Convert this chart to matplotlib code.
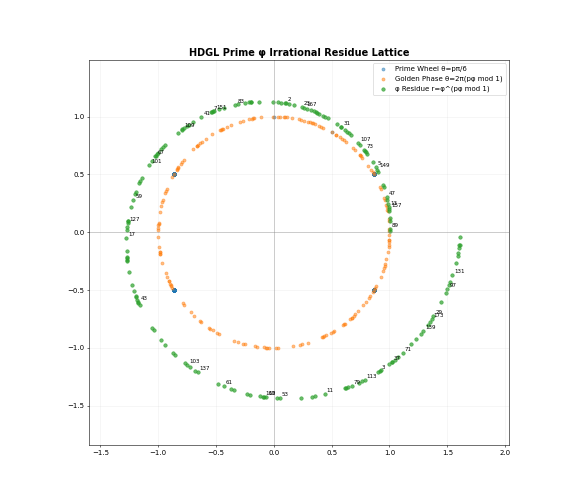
import numpy as np
import matplotlib
matplotlib.use("Agg")
import matplotlib.pyplot as plt

primes = [2, 3, 5, 7, 11, 13, 17, 19, 23, 29, 31, 37, 41, 43, 47, 53, 59, 61, 67, 71,
          73, 79, 83, 89, 97, 101, 103, 107, 109, 113, 127, 131, 137, 139, 149, 151, 157, 163, 167, 173,
          179, 181, 191, 193, 197, 199, 211, 223, 227, 229, 233, 239, 241, 251, 257, 263, 269, 271, 277, 281,
          283, 293, 307, 311, 313, 317, 331, 337, 347, 349, 353, 359, 367, 373, 379, 383, 389, 397, 401, 409,
          419, 421, 431, 433, 439, 443, 449, 457, 461, 463, 467, 479, 487, 491, 499, 503, 509, 521, 523, 541,
          547, 557, 563, 569, 571, 577, 587, 593, 599, 601, 607, 613, 617, 619, 631, 641, 643, 647, 653, 659,
          661, 673, 677, 683, 691, 701, 709, 719, 727, 733, 739, 743, 751, 757, 761, 769, 773, 787, 797, 809,
          811, 821, 823, 827, 829, 839, 853, 857, 859, 863, 877, 881, 883, 887, 907, 911, 919, 929, 937, 941,
          947, 953, 967, 971, 977, 983, 991, 997]
n_labeled = 40

phi = (1 + 5 ** 0.5) / 2
p = np.array(primes, dtype=float)

theta_wheel = p * np.pi / 6
frac = np.mod(p * phi, 1.0)
theta_gold = 2 * np.pi * frac
r_res = phi ** frac

fig, ax = plt.subplots(figsize=(11.68, 10), dpi=50)

ax.scatter(np.cos(theta_wheel), np.sin(theta_wheel), s=20, alpha=0.5, color="C0",
           label="Prime Wheel θ=pπ/6")
ax.scatter(np.cos(theta_gold), np.sin(theta_gold), s=20, alpha=0.5, color="C1",
           label="Golden Phase θ=2π(pφ mod 1)")
xr = r_res * np.cos(theta_gold)
yr = r_res * np.sin(theta_gold)
ax.scatter(xr, yr, s=25, alpha=0.7, color="C2", label="φ Residue r=φ^(pφ mod 1)")

for i in range(n_labeled):
    ax.annotate(str(primes[i]), (xr[i], yr[i]), xytext=(3, 3), textcoords="offset points",
                fontsize=8)

ax.axhline(0, color="gray", lw=1, alpha=0.5)
ax.axvline(0, color="gray", lw=1, alpha=0.5)
ax.set_aspect("equal")
ax.set_xlim(-1.595, 2.035)
ax.set_ylim(-1.84, 1.49)
ax.grid(True, alpha=0.2)
ax.set_title("HDGL Prime φ Irrational Residue Lattice", fontsize=14, fontweight="bold")
ax.legend(loc="upper right", fontsize=10)

fig.savefig("out.png", dpi=50)
